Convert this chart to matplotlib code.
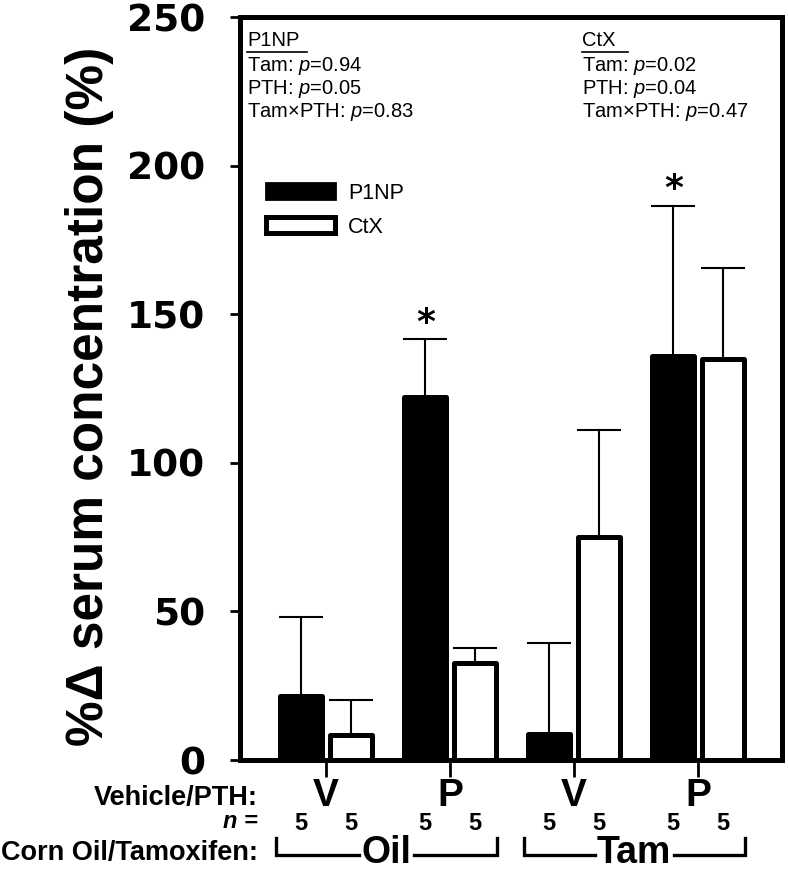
import numpy as np
import matplotlib
matplotlib.use("Agg")
import matplotlib.pyplot as plt
import matplotlib.transforms as mtransforms
from matplotlib.patches import Patch
from matplotlib.lines import Line2D

# ---------------- data ----------------
pth_labels = ["V", "P", "V", "P"]
tam_groups = ["Oil", "Tam"]
p1np = [21.5, 122.2, 8.7, 136.0]
p1np_err = [26.5, 19.3, 30.5, 50.5]
ctx = [8.4, 32.6, 75.0, 134.8]
ctx_err = [11.8, 5.0, 36.0, 30.8]
n_p1np = [5, 5, 5, 5]
n_ctx = [5, 5, 5, 5]
p1np_sig = [False, True, False, True]
yticks = [0, 50, 100, 150, 200, 250]
stats_p1np = ["P1NP", "Tam: $\\mathit{p}$=0.94", "PTH: $\\mathit{p}$=0.05", "Tam×PTH: $\\mathit{p}$=0.83"]
stats_ctx = ["CtX", "Tam: $\\mathit{p}$=0.02", "PTH: $\\mathit{p}$=0.04", "Tam×PTH: $\\mathit{p}$=0.47"]
ylabel = "%Δ serum concentration (%)"

plt.rcParams['font.family'] = ['Liberation Sans', 'DejaVu Sans']
plt.rcParams['mathtext.fontset'] = 'custom'
plt.rcParams['mathtext.rm'] = 'Liberation Sans'
plt.rcParams['mathtext.it'] = 'Liberation Sans:italic'

W, H = 788, 872
fig = plt.figure(figsize=(W / 100, H / 100), dpi=100)

def fx(x):
    return x / W

def fy(y):
    return 1 - y / H

ax = fig.add_axes([fx(240), fy(760), fx(782) - fx(240), fy(17) - fy(760)])

x = np.arange(1, len(p1np) + 1)
off = 0.2
bw = 0.335

ax.bar(x - off, p1np, width=bw, color="black", edgecolor="black",
       linewidth=3.6, joinstyle="round", zorder=3, label="P1NP")
ax.bar(x + off, ctx, width=bw, color="white", edgecolor="black",
       linewidth=3.6, joinstyle="round", zorder=3, label="CtX")
ax.errorbar(x - off, p1np, yerr=[np.zeros(len(p1np)), p1np_err], fmt="none",
            ecolor="black", elinewidth=1.5, capsize=15.5, capthick=1.5, zorder=2)
ax.errorbar(x + off, ctx, yerr=[np.zeros(len(ctx)), ctx_err], fmt="none",
            ecolor="black", elinewidth=1.5, capsize=15.5, capthick=1.5, zorder=2)

for xi, v, e, s in zip(x - off, p1np, p1np_err, p1np_sig):
    if s:
        ax.annotate("*", (xi, v + e), xytext=(0, 5), textcoords="offset points",
                    ha="center", va="baseline", fontsize=26, fontweight="bold",
                    family="DejaVu Sans")

ax.set_xlim(0.306, 4.677)
ax.set_ylim(0, 250)
ax.set_yticks(yticks)
ax.set_yticklabels([str(t) for t in yticks], fontsize=27, fontweight="bold",
                   family="DejaVu Sans")
ax.tick_params(axis="y", direction="out", length=7, width=2, pad=18)
ax.set_xticks(x)
ax.set_xticklabels(pth_labels, fontsize=28, fontweight="bold")
ax.tick_params(axis="x", direction="out", length=12, width=2, pad=1)
for sp in ax.spines.values():
    sp.set_linewidth(3.6)

# legend
handles = [Patch(facecolor="black", edgecolor="black", linewidth=2, joinstyle="round"),
           Patch(facecolor="white", edgecolor="black", linewidth=3.6, joinstyle="round")]
ax.legend(handles, ["P1NP", "CtX"], loc="upper left", bbox_to_anchor=(0.048, 0.777),
          frameon=False, fontsize=15.5, handlelength=3.2, handleheight=0.78,
          handletextpad=0.6, labelspacing=0.6, borderaxespad=0, borderpad=0)

# stats text
ys = [46, 71, 94, 117]
for col_x, lines, ul_end in [(247, stats_p1np, 307), (582, stats_ctx, 628)]:
    for yy, t in zip(ys, lines):
        fig.text(fx(col_x), fy(yy), t, fontsize=14.5, ha="left", va="baseline")
    fig.add_artist(Line2D([fx(col_x), fx(ul_end)], [fy(52.5), fy(52.5)],
                          color="black", lw=1.2, transform=fig.transFigure))

# y label
fig.text(fx(90), fy(396), ylabel, rotation=90, fontsize=37, fontweight="bold",
         ha="center", va="center")

# bottom annotation rows
blend = mtransforms.blended_transform_factory(ax.transData, fig.transFigure)
fig.text(fx(258), fy(805), "Vehicle/PTH:", fontsize=19.5, fontweight="bold",
         ha="right", va="baseline")
fig.text(fx(258), fy(828), "n =", fontsize=17, fontweight="bold", style="italic",
         ha="right", va="baseline")
fig.text(fx(258), fy(860), "Corn Oil/Tamoxifen:", fontsize=19.5, fontweight="bold",
         ha="right", va="baseline")
for xi, n1, n2 in zip(x, n_p1np, n_ctx):
    fig.text(xi - off, fy(830), str(n1), transform=blend, fontsize=17,
             fontweight="bold", ha="center", va="baseline")
    fig.text(xi + off, fy(830), str(n2), transform=blend, fontsize=17,
             fontweight="bold", ha="center", va="baseline")

fig.canvas.draw()
renderer = fig.canvas.get_renderer()
inv = ax.transData.inverted()
for gi, name in enumerate(tam_groups):
    x0 = x[2 * gi] - off - bw / 2 - 0.04
    x1 = x[2 * gi + 1] + off + bw / 2 + 0.01
    t = fig.text((x0 + x1) / 2, fy(863), name, transform=blend, fontsize=27,
                 fontweight="bold", ha="center", va="baseline")
    bb = t.get_window_extent(renderer)
    tx0 = inv.transform((bb.x0, 0))[0] - 0.02
    tx1 = inv.transform((bb.x1, 0))[0] + 0.02
    fig.add_artist(Line2D([x0, x0, tx0], [fy(838), fy(855), fy(855)],
                          color="black", lw=2.4, transform=blend,
                          solid_joinstyle="miter"))
    fig.add_artist(Line2D([tx1, x1, x1], [fy(855), fy(855), fy(838)],
                          color="black", lw=2.4, transform=blend,
                          solid_joinstyle="miter"))

fig.savefig("out.png", dpi=100)
